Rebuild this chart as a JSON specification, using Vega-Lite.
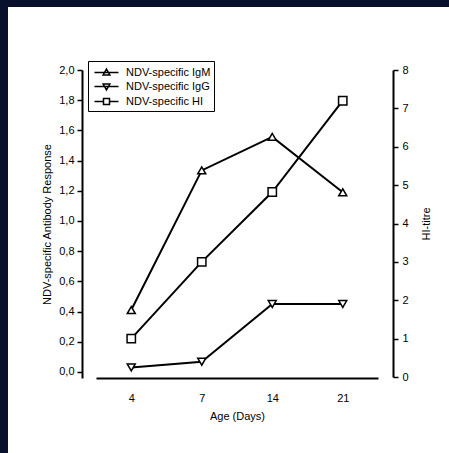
{
  "$schema": "https://vega.github.io/schema/vega-lite/v6.json",
  "width": 441,
  "height": 446,
  "autosize": {"type": "none"},
  "padding": {"left": 8, "top": 7, "right": 0, "bottom": 0},
  "background": "#07102c",
  "config": {
    "font": "Liberation Sans",
    "view": {"stroke": null, "fill": "#ffffff"},
    "axis": {
      "grid": false,
      "domainColor": "#000000",
      "domainWidth": 2,
      "tickColor": "#000000",
      "tickWidth": 1.5,
      "labelColor": "#000000",
      "labelFontSize": 11,
      "titleColor": "#000000",
      "titleFontSize": 11,
      "titleFontWeight": "normal"
    }
  },
  "data": {
    "values": [
      {"age": "4", "series": "NDV-specific IgM", "side": "left", "value": 0.41},
      {"age": "7", "series": "NDV-specific IgM", "side": "left", "value": 1.335},
      {"age": "14", "series": "NDV-specific IgM", "side": "left", "value": 1.557},
      {"age": "21", "series": "NDV-specific IgM", "side": "left", "value": 1.19},
      {"age": "4", "series": "NDV-specific IgG", "side": "left", "value": 0.03},
      {"age": "7", "series": "NDV-specific IgG", "side": "left", "value": 0.068},
      {"age": "14", "series": "NDV-specific IgG", "side": "left", "value": 0.45},
      {"age": "21", "series": "NDV-specific IgG", "side": "left", "value": 0.45},
      {"age": "4", "series": "NDV-specific HI", "side": "right", "value": 1.0},
      {"age": "7", "series": "NDV-specific HI", "side": "right", "value": 3.0},
      {"age": "14", "series": "NDV-specific HI", "side": "right", "value": 4.82},
      {"age": "21", "series": "NDV-specific HI", "side": "right", "value": 7.2}
    ]
  },
  "encoding": {
    "x": {
      "field": "age",
      "type": "ordinal",
      "sort": ["4", "7", "14", "21"],
      "scale": {"type": "point", "range": [88, 370], "padding": 0.5},
      "axis": {
        "orient": "bottom",
        "offset": -75,
        "title": "Age (Days)",
        "labelAngle": 0,
        "ticks": false,
        "tickSize": 0,
        "labelPadding": 14,
        "titlePadding": 7
      }
    }
  },
  "layer": [
    {
      "transform": [{"filter": "datum.side === 'left'"}],
      "encoding": {
        "y": {
          "field": "value",
          "type": "quantitative",
          "scale": {"domain": [-0.04, 2.0], "range": [371, 63], "nice": false, "zero": false},
          "axis": {
            "orient": "left",
            "offset": -74,
            "title": "NDV-specific Antibody Response",
            "values": [0, 0.2, 0.4, 0.6, 0.8, 1.0, 1.2, 1.4, 1.6, 1.8, 2.0],
            "labelExpr": "replace(format(datum.value, '.1f'), '.', ',')",
            "tickSize": 5,
            "labelPadding": 3,
            "titlePadding": 6
          }
        }
      },
      "layer": [
        {
          "mark": {"type": "line", "color": "#000000", "strokeWidth": 2},
          "encoding": {"detail": {"field": "series"}}
        },
        {
          "transform": [{"filter": "datum.series === 'NDV-specific IgM'"}],
          "mark": {"type": "point", "shape": "triangle-up", "filled": true, "fill": "#ffffff", "stroke": "#000000", "strokeWidth": 1.5, "size": 64, "opacity": 1},
          "encoding": {}
        },
        {
          "transform": [{"filter": "datum.series === 'NDV-specific IgG'"}],
          "mark": {"type": "point", "shape": "triangle-down", "filled": true, "fill": "#ffffff", "stroke": "#000000", "strokeWidth": 1.5, "size": 64, "opacity": 1},
          "encoding": {}
        },
        {
          "transform": [{"filter": "datum.side === 'legendonly'"}],
          "mark": {"type": "point", "filled": false, "color": "#000000", "strokeWidth": 1.5, "size": 225, "opacity": 1},
          "encoding": {
            "shape": {
              "field": "series",
              "type": "nominal",
              "scale": {
                "domain": ["NDV-specific IgM", "NDV-specific IgG", "NDV-specific HI"],
                "range": [
                  "M-1.6,0H1.6M0,-0.45L0.45,0.33H-0.45Z",
                  "M-1.6,0H1.6M0,0.45L0.45,-0.33H-0.45Z",
                  "M-1.6,0H-0.4M0.4,0H1.6M-0.4,-0.4H0.4V0.4H-0.4Z"
                ]
              },
              "legend": {
                "title": null,
                "orient": "none",
                "legendX": 80,
                "legendY": 54,
                "direction": "vertical",
                "strokeColor": "#000000",
                "fillColor": "#ffffff",
                "padding": 3,
                "rowPadding": 0,
                "symbolSize": 225,
                "symbolOffset": 7,
                "labelOffset": 11,
                "labelFontSize": 11,
                "labelColor": "#000000",
                "symbolStrokeWidth": 1.5,
                "symbolStrokeColor": "#000000",
                "symbolOpacity": 1,
                "encode": {
                  "legend": {"update": {"strokeWidth": {"value": 1.5}}}
                }
              }
            }
          }
        }
      ]
    },
    {
      "transform": [{"filter": "datum.side === 'right'"}],
      "encoding": {
        "y": {
          "field": "value",
          "type": "quantitative",
          "scale": {"domain": [0, 8], "range": [370, 63], "nice": false, "zero": false},
          "axis": {
            "orient": "right",
            "offset": -56,
            "title": "HI-titre",
            "titleAngle": 270,
            "values": [0, 1, 2, 3, 4, 5, 6, 7, 8],
            "tickSize": 5,
            "labelPadding": 4,
            "titlePadding": 23
          }
        }
      },
      "layer": [
        {
          "mark": {"type": "line", "color": "#000000", "strokeWidth": 2},
          "encoding": {}
        },
        {
          "mark": {"type": "point", "shape": "square", "filled": true, "fill": "#ffffff", "stroke": "#000000", "strokeWidth": 1.5, "size": 70, "opacity": 1},
          "encoding": {}
        }
      ]
    }
  ],
  "resolve": {"scale": {"y": "independent"}}
}
